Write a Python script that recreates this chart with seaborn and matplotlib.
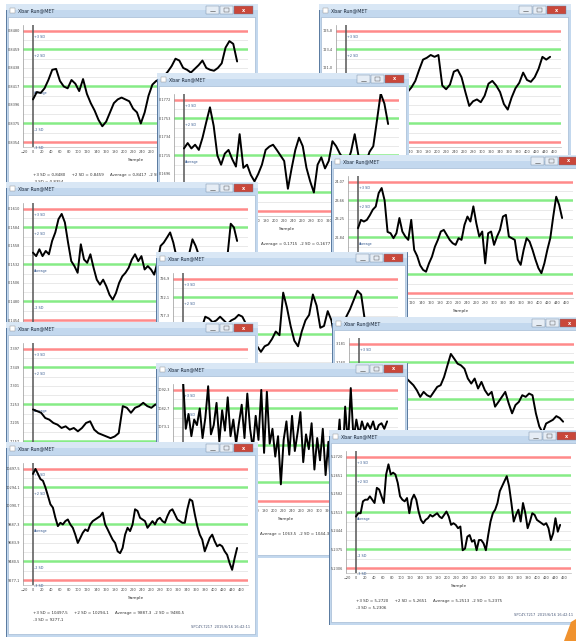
import numpy as np
import pandas as pd
import matplotlib
matplotlib.use("Agg")
import matplotlib.pyplot as plt
from matplotlib.patches import Rectangle, Polygon
import seaborn as sns

sns.set_theme(style="white")
plt.rcParams["font.family"] = ["DejaVu Sans"]

FIG_W, FIG_H = 576, 641

w1_values = [-0.7, -0.3, -0.35, -0.1, 0.35, 0.9, 0.95, 0.3, 0.0, -0.1, 0.35, 0.15, -0.25,
             0.4, -0.4, -0.9, -1.3, -1.8, -2.15, -1.9, -1.4, -0.9, -0.7, -0.6, -0.7, -0.8,
             -1.2, -1.4, -2.0, -1.4, -0.5, 0.1, 0.3, 0.4, 0.55, 0.8, 1.1, 1.5, 1.4, 1.0, 0.9,
             0.75, 0.95, 1.15, 1.4, 1.0, 0.9, 0.85, 1.0, 1.25, 2.1, 2.45, 2.3, 1.35]
w2_values = [0.2, 0.4, 0.1, -0.3, -0.6, -0.4, 0.0, 0.3, 0.1, -0.2, -0.5, -0.3, 0.0, -0.1,
             -0.2, -0.15, -0.3, -0.05, 0.3, 0.9, 1.45, 1.55, 1.7, 1.6, 1.7, 0.05, -0.15, 0.1,
             0.8, 0.9, 0.5, -0.3, -1.05, -0.8, -0.7, -0.85, -0.5, 0.15, 0.3, 0.05, -0.3,
             -0.95, -1.25, -0.6, -0.1, 0.2, 0.75, 0.35, 0.25, 0.5, 0.95, 1.6, 1.45, 1.6]
w3_values = [0.38, 0.67, 0.38, 0.58, 0.3, 0.96, 1.8, 2.6, 1.6, 0.0, -0.5, 0.1, 0.3, -0.2,
             -0.6, 1.15, -0.67, -0.5, -1.05, -1.4, -1.0, -0.5, 0.3, 0.48, 0.58, 0.3, 0.0,
             -0.3, -1.8, -0.7, 0.3, 0.96, 0.5, -0.67, -1.4, -2.0, -0.5, -0.1, -0.7, -0.3,
             0.77, 0.5, 0.1, -0.2, -0.4, 0.2, 1.15, 0.0, -0.3, -0.4, 0.2, 0.5, 1.9, 3.35,
             2.8, 1.7]
w4_values = [0.5, 0.95, 0.86, 0.95, 1.2, 1.5, 1.67, 2.4, 2.67, 2.0, 0.3, 0.23, -0.04, 0.23,
             1.05, 0.32, 0.05, -0.13, 0.95, -0.67, -1.0, -1.5, -1.75, -1.85, -1.4, -1.04,
             -0.5, -0.13, 0.32, 0.41, 0.14, -0.13, -0.31, -0.4, -0.04, -0.13, 0.68, 1.13,
             0.86, 1.68, 0.77, 0.05, 0.32, -1.4, 0.23, 0.32, -0.4, 0.05, 0.41, 1.13, 1.22,
             0.05, -0.04, -0.13, -1.2, -1.48, -0.67, -0.04, -0.22, -0.67, -1.2, -1.66, -1.93,
             -1.4, -0.67, -0.04, 1.13, 2.2, 1.76, 1.05]
w5_values = [0.64, 0.45, 0.82, 0.45, 0.73, 0.55, 1.27, 1.73, 2.45, 2.73, 2.27, 1.18, 0.18,
             -0.09, -0.45, 1.09, 0.27, 0.09, 0.55, -0.18, -0.82, -1.09, -0.82, -1.18, -1.64,
             -1.9, -1.55, -1.0, -0.64, -0.45, -0.18, 0.27, 0.55, 0.18, 0.45, -0.27, -0.09,
             -0.27, -0.55, 0.09, 1.0, 1.18, 1.45, 1.73, 1.18, 0.4, 0.1, -0.1, 0.3, 0.6, 1.36,
             1.0, 0.5, 0.2, 0.0, -0.3, -0.1, 0.2, 0.4, 0.1, 0.3, 0.5, 2.2, 2.0, 1.27]
w6_values = [0.2, -0.2, 0.1, -0.3, 0.0, 0.3, 0.96, 0.86, 0.66, 0.76, 0.96, 0.76, 0.56, 0.76,
             0.86, 1.06, 0.96, 0.56, -0.04, -0.34, -0.64, -0.94, -0.64, -0.54, -0.24, 0.16,
             -0.04, 2.26, 1.46, 0.46, -0.34, -0.64, 0.16, 0.76, 1.06, 2.16, 1.56, 0.36, 0.46,
             1.26, 0.76, -0.34, -0.54, 0.16, 0.96, 1.36, 1.86, 2.36, 2.16, 0.76, 0.5, 0.2,
             0.6, 0.3, 0.8, 0.5]
w11_values = [0.0, -0.3, 0.2, 0.5, 0.3, -0.2, 0.1, 0.4, 0.2, 0.6, 0.3, 0.14, 0.23, 0.59,
              1.13, 0.95, 0.77, 0.5, 0.14, 0.41, 0.23, 0.14, 0.41, 0.68, 0.77, 1.21, 1.84,
              2.46, 2.2, 1.93, 1.84, 1.66, 1.13, 0.86, 1.13, 0.59, 0.95, 0.5, 0.23, 0.41,
              -0.39, -0.13, 0.14, 0.41, -0.21, -0.75, -0.3, -0.13, 0.23, 0.14, 0.32, 0.23,
              -0.75, -1.46, -1.8, -1.3, -1.2, -1.1, -0.9, -1.0, -1.2]
w7_values = [-0.27, -0.36, -0.45, -0.73, -0.82, -1.0, -1.09, -1.27, -1.18, -1.36, -1.27,
             -1.45, -1.27, -1.0, -0.91, -1.36, -1.55, -1.64, -1.73, -1.82, -1.73, -1.55,
             -0.09, -0.18, -0.45, -0.18, -0.09, 0.09, -0.09, -0.18, 0.0, -0.09, 0.0, 0.09,
             0.18, 0.18, 0.27, 0.36, 0.45, 0.4, 0.3, 0.5, 0.6, 0.4, 0.7, 0.5, 0.8, 0.6, 0.9,
             0.7, 0.8]
w8_values = [3.6, 0.9, 1.7, 0.5, 1.4, 1.1, 2.0, 0.4, 1.5, 3.2, 0.6, 1.1, 2.3, 0.2, 1.9, 0.8,
             2.6, 0.5, 1.4, 0.1, 1.2, 2.2, 0.4, 2.8, 0.9, -0.2, 1.6, 0.3, 3.0, -0.4, 2.9, 0.1,
             0.9, -0.6, 0.5, -2.1, 0.3, 1.3, -0.5, 1.6, -0.3, 0.7, 1.8, -0.9, 0.6, -0.2, 1.2,
             -1.3, 0.4, -0.8, 0.9, -1.6, 0.2, -2.8, 0.6, -0.5, 1.4, -1.1, 2.1, 0.0, 3.1, 0.3,
             1.4, 0.6, 1.3, 0.8, 1.2, 0.9, 1.3, 0.7, 1.1, 1.2, 0.9, 1.3]
w9_values = [2.73, 3.0, 2.73, 2.45, 2.36, 2.0, 1.55, 1.09, 0.91, 0.36, -0.09, 0.09, 0.0, 0.18,
             0.27, 0.0, -0.18, -0.55, -1.0, -0.73, -0.45, -0.27, -0.36, 0.0, 0.18, 0.27, 0.36,
             0.45, 0.64, 0.0, -0.27, -0.55, -0.82, -1.0, -1.45, -1.55, -1.27, -0.55, -0.18,
             -0.36, 0.0, 0.82, 0.73, 0.36, 0.27, 0.18, -0.18, 0.0, 0.18, 0.0, 0.27, 0.36,
             0.18, 0.09, 0.45, 0.73, 0.82, 0.55, 0.27, 0.18, 0.09, 0.09, 0.82, 1.36, 1.27,
             0.55, -0.09, -0.55, -0.82, -1.45, -1.09, -0.73, -0.55, -0.91, -1.18, -1.09,
             -1.18, -1.45, -1.64, -2.09, -2.45, -1.82, -1.27]
w10_values = [-0.22, -0.04, -0.04, 0.6, 0.69, 0.69, 0.87, 0.69, 0.51, 1.33, 1.24, 0.87, 0.51,
              2.05, 2.6, 2.05, 2.15, 2.05, 1.6, 0.87, 0.69, 0.6, 0.78, -0.04, 0.69, 0.96,
              0.69, 0.05, -0.4, -0.58, -0.4, -0.31, -0.13, -0.22, -0.13, -0.04, -0.22, -0.31,
              -0.13, 0.05, -0.22, -0.67, -0.58, -0.67, -0.85, -0.76, -2.04, -1.95, -1.31,
              -1.22, -1.58, -1.49, -2.04, -1.49, -1.49, -1.67, -2.04, -1.22, -0.49, -0.04,
              0.15, 0.51, 1.15, 1.42, 1.69, 1.96, 1.42, 0.51, -0.49, -0.13, 0.15, -0.49, 0.51,
              -0.04, -0.85, -0.49, -0.04, -0.13, -0.4, -0.49, -0.58, -0.67, -0.58, -0.85,
              -1.49, -1.13, -0.31, -1.04, -0.67]

# average / standard deviation of each chart (axis labels and footer)
averages = [0.8417, 118.6, 0.1715, 22.84, 0.1532, 712.5, 3.118, 7.253, 1063.5, 9887.3, 5.2513]
std_devs = [0.0021, 2.4, 0.0019, 0.41, 0.0026, 4.8, 0.021, 0.048, 9.6, 203.4, 0.0069]
decimals = [4, 1, 4, 2, 4, 1, 3, 3, 1, 1, 4]
series = [w1_values, w2_values, w3_values, w4_values, w5_values, w6_values, w11_values,
          w7_values, w8_values, w9_values, w10_values]
window_title = "Xbar Run@MET"
sd_names = ["+3 SD", "+2 SD", "Average", "-2 SD", "-3 SD"]
sd_levels = [3, 2, 0, -2, -3]

# window placement in pixels (left, top), drawn back to front
win_left = [5, 318, 156, 330, 5, 155, 331, 5, 155, 5, 328]
win_top = [3, 3, 72, 154, 181, 251, 316, 321, 362, 441, 429]
WIN_W, WIN_H = 253, 196


def fmt(v, d):
    return f"{v:.{d}f}".replace(".", ",")


def draw_window(fig, left, top, values, avg, sd, d, z):
    frame = fig.add_axes([left / FIG_W, 1 - (top + WIN_H) / FIG_H, WIN_W / FIG_W, WIN_H / FIG_H],
                         zorder=z)
    frame.set_xlim(0, WIN_W)
    frame.set_ylim(WIN_H, 0)
    frame.axis("off")
    frame.add_patch(Rectangle((0.5, 0.5), WIN_W - 1, WIN_H - 1, fc="#c3d8ee", ec="#58799f", lw=0.7))
    frame.add_patch(Rectangle((0.5, 0.5), WIN_W - 1, 6, fc="#d9e7f5", ec="none"))
    frame.add_patch(Rectangle((3, 14), WIN_W - 6, WIN_H - 17, fc="white", ec="#94aecb", lw=0.4))
    frame.add_patch(Rectangle((5, 5), 5, 5, fc="white", ec="#8a8a8a", lw=0.3))
    frame.text(13, 7.8, window_title, fontsize=3.4, va="center", color="#1e2a3a")
    for bx, bw, col in [(WIN_W - 52, 13, "#e6edf5"), (WIN_W - 38, 13, "#e6edf5"),
                        (WIN_W - 24, 19, "#c9473a")]:
        frame.add_patch(Rectangle((bx, 3), bw, 8, fc=col, ec="#6c84a0", lw=0.3))
    frame.text(WIN_W - 14.5, 7, "x", fontsize=3.5, color="white", ha="center", va="center",
               fontweight="bold")
    frame.plot([WIN_W - 48, WIN_W - 43], [8.5, 8.5], color="#444", lw=0.4)
    frame.add_patch(Rectangle((WIN_W - 34, 5), 5, 4, fc="none", ec="#444", lw=0.3))

    line1 = (f"+3 SD = {fmt(avg + 3 * sd, d)}     +2 SD = {fmt(avg + 2 * sd, d)}     "
             f"Average = {fmt(avg, d)}  -2 SD = {fmt(avg - 2 * sd, d)}")
    frame.text(28, 173, line1, fontsize=2.9, color="#333")
    frame.text(28, 180, f"-3 SD = {fmt(avg - 3 * sd, d)}", fontsize=2.9, color="#333")
    frame.text(WIN_W - 8, 187, "SPC4Y-7217  2015/6/16 16:42:11", fontsize=2.6,
               color="#4a5a7a", ha="right")

    ax = fig.add_axes([(left + 18) / FIG_W, 1 - (top + 144) / FIG_H, 225 / FIG_W, 122 / FIG_H],
                      zorder=z + 1)
    ax.set_facecolor("white")
    df = pd.DataFrame({"Sample": np.linspace(0, 450, len(values)),
                       "Value": avg + sd * np.array(values)})
    for k in np.arange(-3.0, 3.5, 0.5):
        ax.axhline(avg + k * sd, color="#e0e0e0", lw=0.5, zorder=0)
    for lvl, name in zip(sd_levels, sd_names):
        col = "#ff8a8a" if abs(lvl) == 3 else "#86ec86"
        ax.axhline(avg + lvl * sd, color=col, lw=1.8, zorder=1)
        ax.text(3, avg + (lvl - 0.4) * sd, name, fontsize=2.4, color="#34598f", zorder=3)
    ax.axvline(0, color="#555555", lw=1.1, zorder=2)
    sns.lineplot(data=df, x="Sample", y="Value", ax=ax, color="black", lw=1.4, zorder=4)
    ax.set_xlim(-22, 474)
    ax.set_ylim(avg - 3.27 * sd, avg + 3.32 * sd)
    ax.set_xticks(np.arange(-20, 461, 20))
    ax.set_yticks([avg + k * sd for k in range(-3, 4)])
    ax.set_yticklabels([fmt(avg + k * sd, d) for k in range(-3, 4)])
    ax.tick_params(axis="both", labelsize=2.5, length=1.2, width=0.4, pad=1, colors="#444")
    ax.set_xlabel("Sample", fontsize=3.2, labelpad=3, color="#333")
    ax.set_ylabel("")
    for s in ["top", "right"]:
        ax.spines[s].set_visible(False)
    ax.spines["left"].set_color("#999999")
    ax.spines["left"].set_linewidth(0.5)
    ax.spines["bottom"].set_color("#bbbbbb")
    ax.spines["bottom"].set_linewidth(0.5)


fig = plt.figure(figsize=(FIG_W / 100, FIG_H / 100), dpi=100)
fig.patch.set_facecolor("white")

for i, vals in enumerate(series):
    draw_window(fig, win_left[i], win_top[i], vals, averages[i], std_devs[i], decimals[i], 2 * i + 2)

# orange corner mark
fig.patches.append(Polygon([(571 / FIG_W, 1 - 622 / FIG_H), (576 / FIG_W, 1 - 619 / FIG_H),
                            (576 / FIG_W, 0), (564 / FIG_W, 0)], closed=True,
                           fc="#f0922e", ec="none", transform=fig.transFigure, zorder=100))

fig.savefig("out.png", dpi=100)
